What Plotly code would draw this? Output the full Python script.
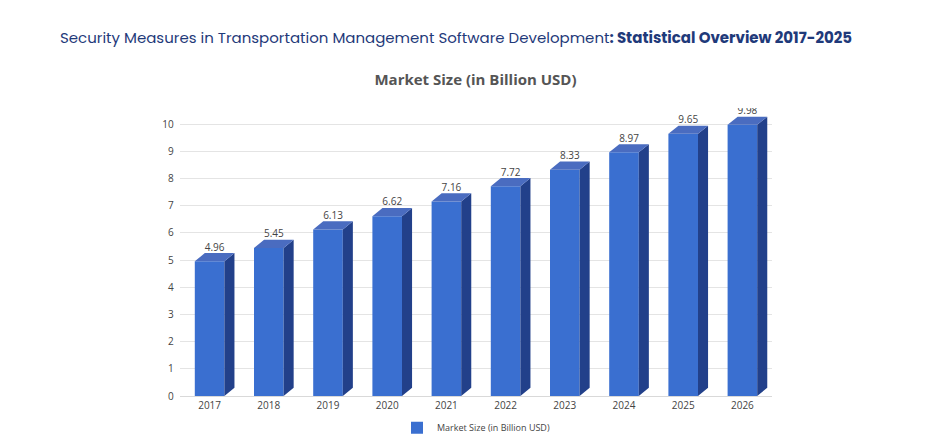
import plotly.graph_objects as go

years = ["2017","2018","2019","2020","2021","2022","2023","2024","2025","2026"]
values = [4.96,5.45,6.13,6.62,7.16,7.72,8.33,8.97,9.65,9.98]

xs = list(range(len(years)))
w, dx, dy = 0.5, 0.17, 0.3

fig = go.Figure()
fig.add_trace(go.Bar(x=xs, y=values, width=w, name="Market Size (in Billion USD)",
                     marker=dict(color="#3a6fd0", line=dict(width=0)), showlegend=True))
sx, sy, tx, ty = [], [], [], []
for x, v in zip(xs, values):
    r = x + w/2
    sx += [r, r+dx, r+dx, r, r, None]; sy += [0, dy, v+dy, v, 0, None]
    l = x - w/2
    tx += [l, l+dx, r+dx, r, l, None]; ty += [v, v+dy, v+dy, v, v, None]
fig.add_trace(go.Scatter(x=sx, y=sy, fill="toself", mode="lines", line=dict(width=0),
                         fillcolor="#22408a", showlegend=False, hoverinfo="skip"))
fig.add_trace(go.Scatter(x=tx, y=ty, fill="toself", mode="lines", line=dict(width=0),
                         fillcolor="#4a6cc0", showlegend=False, hoverinfo="skip"))
fig.add_trace(go.Scatter(x=[x+dx/2 for x in xs], y=[v+dy for v in values], mode="text",
                         text=[f"{v:.2f}" for v in values], textposition="top center",
                         textfont=dict(size=10, color="#444"), showlegend=False, hoverinfo="skip"))

fig.update_layout(
    width=935, height=443, plot_bgcolor="white", paper_bgcolor="white",
    margin=dict(l=172, r=171, t=100, b=55, autoexpand=False),
    font=dict(family="Open Sans", color="#444"),
    annotations=[
        dict(text="Security Measures in Transportation Management Software Development<b>: Statistical Overview 2017-2025</b>",
             x=0.466, xref="paper", yref="paper", y=1.0, yanchor="bottom", yshift=58,
             showarrow=False, font=dict(size=15, color="#1f3a7a", family="Poppins, Open Sans")),
    ],
    title=dict(text="<b>Market Size (in Billion USD)</b>", x=0.5, xanchor="center",
               y=0.838, yanchor="middle", yref="container", font=dict(size=15, color="#555")),
    legend=dict(orientation="h", x=0.5, xanchor="center", yref="container", y=0.02,
                yanchor="bottom", font=dict(size=9), itemwidth=30),
    bargap=0.5,
)
fig.update_xaxes(tickvals=xs, ticktext=years, range=[-0.5, 9.5], showgrid=False,
                 tickfont=dict(size=10), showline=True, linecolor="#d9d9d9", zeroline=False)
fig.update_yaxes(range=[0, 10.6], dtick=1, showgrid=True, gridcolor="#e4e4e4",
                 tickfont=dict(size=10), zeroline=False, ticksuffix="  ")
fig.write_html("out.html")
